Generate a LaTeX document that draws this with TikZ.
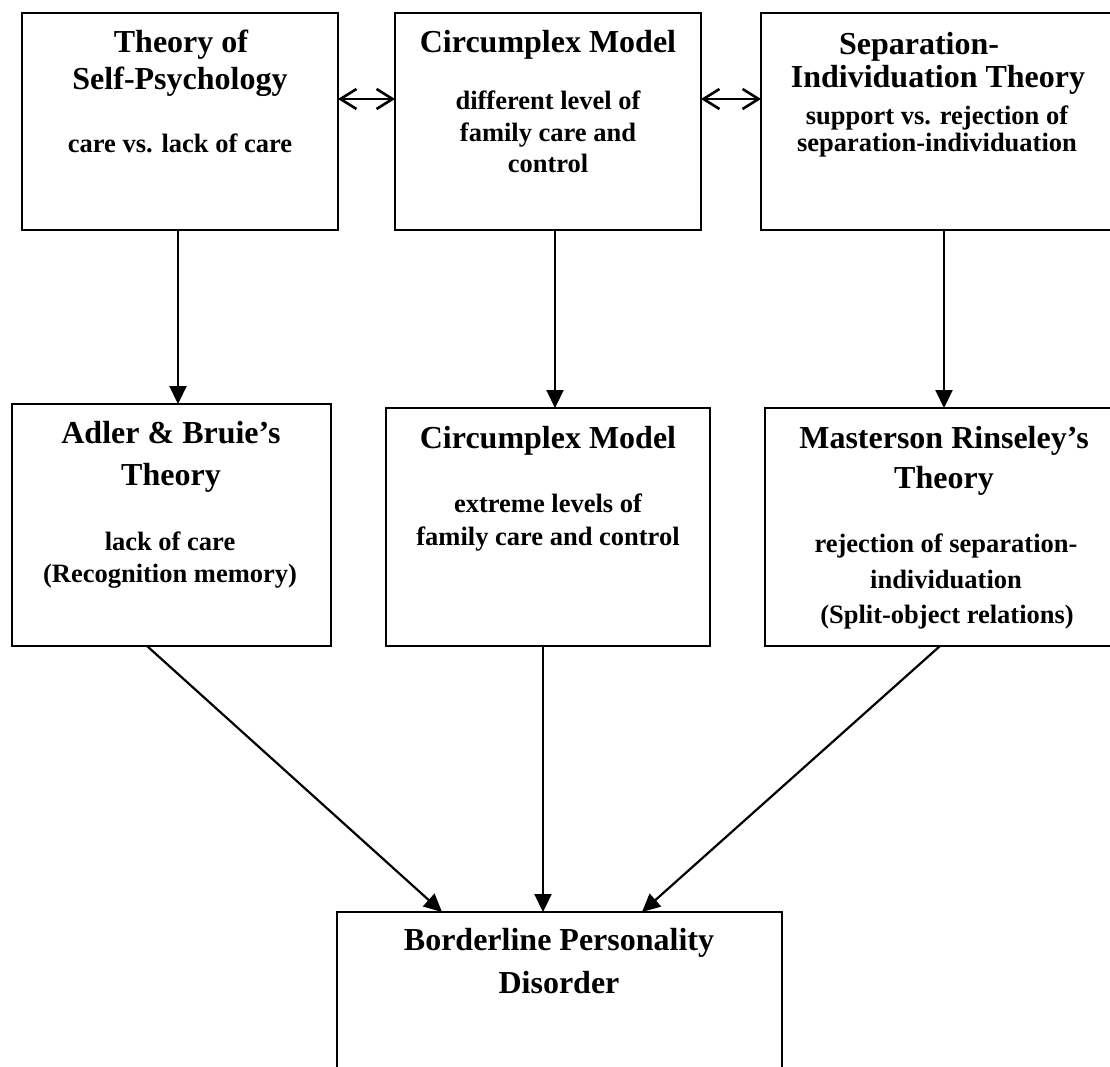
\documentclass[tikz,border=0pt]{standalone}
\usepackage{fontspec}
\setmainfont{Liberation Serif}
\usetikzlibrary{arrows.meta}
\begin{document}
\begin{tikzpicture}[x=1pt,y=-1pt,
  box/.style={draw, line width=2.6pt, inner sep=0pt, outer sep=0pt},
  ttl/.style={anchor=base, inner sep=0pt, font=\fontsize{32}{38}\selectfont\bfseries},
  sub/.style={anchor=base, inner sep=0pt, font=\fontsize{26.5}{32}\selectfont\bfseries},
  down/.style={line width=2.2pt, -{Triangle[length=18pt,width=17pt]}},
  both/.style={line width=2.4pt, {Straight Barb[length=16pt,width=20pt,line width=2.6pt]}-{Straight Barb[length=16pt,width=20pt,line width=2.6pt]}}
]
\clip (0,0) rectangle (1110,1067);
\fill[white] (0,0) rectangle (1110,1067);

% boxes
\node[box, minimum width=316pt, minimum height=217pt] (b1) at (180,121.5) {};
\node[box, minimum width=306pt, minimum height=217pt] (b2) at (548,121.5) {};
\node[box, minimum width=369pt, minimum height=217pt] (b3) at (945.5,121.5) {};
\node[box, minimum width=319pt, minimum height=242pt] (b4) at (171.5,525) {};
\node[box, minimum width=324pt, minimum height=238pt] (b5) at (548,527) {};
\node[box, minimum width=365pt, minimum height=238pt] (b6) at (947.5,527) {};
\node[box, minimum width=445pt, minimum height=178pt] (b7) at (559.5,1001) {};

% texts box 1
\node[ttl] (t1a) at (181,53) {Theory of};
\node[ttl] (t1b) at (180,90) {Self-Psychology};
\node[sub] (t1c) at (180,153) {care vs. lack of care};
% box 2
\node[ttl] (t2a) at (548,53) {Circumplex Model};
\node[sub] (t2b) at (548,110) {different level of};
\node[sub] (t2c) at (548,142) {family care and};
\node[sub] (t2d) at (548,173) {control};
% box 3
\node[ttl] (t3a) at (919,55) {Separation-};
\node[ttl] (t3b) at (938,88) {Individuation Theory};
\node[sub] (t3c) at (937,125) {support vs. rejection of};
\node[sub] (t3d) at (937,152) {separation-individuation};
% box 4
\node[ttl] (t4a) at (171,443) {Adler \& Bruie’s};
\node[ttl] (t4b) at (171,485) {Theory};
\node[sub] (t4c) at (170,550) {lack of care};
\node[sub] (t4d) at (170,582) {(Recognition memory)};
% box 5
\node[ttl] (t5a) at (548,448) {Circumplex Model};
\node[sub] (t5b) at (548,512) {extreme levels of};
\node[sub] (t5c) at (548,545) {family care and control};
% box 6
\node[ttl] (t6a) at (944,448) {Masterson Rinseley’s};
\node[ttl] (t6b) at (944,488) {Theory};
\node[sub] (t6c) at (946,552) {rejection of separation-};
\node[sub] (t6d) at (946,588) {individuation};
\node[sub] (t6e) at (947,623) {(Split-object relations)};
% box 7
\node[ttl] (t7a) at (559,950) {Borderline Personality};
\node[ttl] (t7b) at (559,993) {Disorder};

% helper coordinates
\coordinate (hy) at (0,99);
\coordinate (x1) at (178,0);
\coordinate (x2) at (555,0);
\coordinate (x3) at (944,0);
\coordinate (s4) at (147,0);
\coordinate (e4) at (442,0);
\coordinate (s5) at (543,0);
\coordinate (s6) at (940,0);
\coordinate (e6) at (642,0);

% connectors
\draw[both] (b1.east |- hy) -- (b2.west |- hy);
\draw[both] (b2.east |- hy) -- (b3.west |- hy);
\draw[down] (b1.south -| x1) -- (b4.north -| x1);
\draw[down] (b2.south -| x2) -- (b5.north -| x2);
\draw[down] (b3.south -| x3) -- (b6.north -| x3);
\draw[down] (b4.south -| s4) -- (b7.north -| e4);
\draw[down] (b5.south -| s5) -- (b7.north -| s5);
\draw[down] (b6.south -| s6) -- (b7.north -| e6);
\end{tikzpicture}
\end{document}
